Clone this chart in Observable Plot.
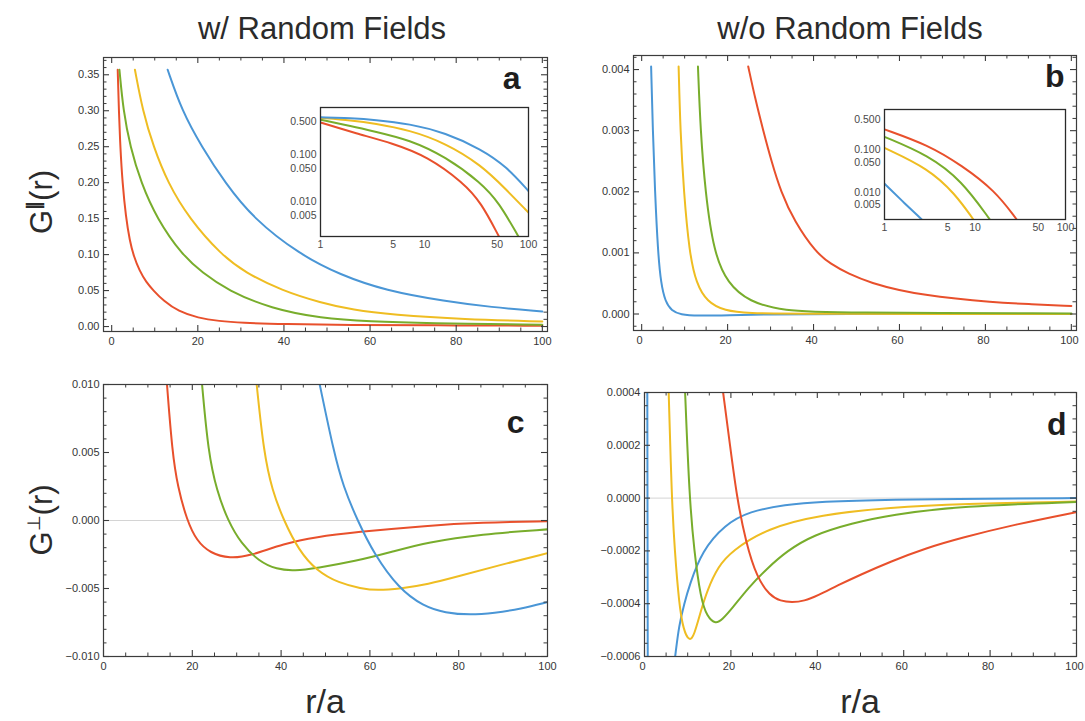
<!DOCTYPE html>
<html><head><meta charset="utf-8">
<script src="https://cdn.jsdelivr.net/npm/d3@7"></script>
<script src="https://cdn.jsdelivr.net/npm/@observablehq/plot@0.6"></script>
<style>
html,body{margin:0;padding:0;background:#fff;}
#root{position:relative;width:1085px;height:721px;overflow:hidden;background:#fff;}
</style></head>
<body><div id="root"></div>
<script>
// ---------- DATA ----------
const colBlue = "#4a96d6", colYellow = "#efbd22", colGreen = "#78ad2c", colRed = "#e8502c";

// Panel a: G∥(r) with random fields
const aBlue   = [[13,0.357],[16.3,0.30],[20.9,0.25],[26.3,0.20],[32.9,0.15],[43.7,0.10],[53,0.072],[63.5,0.05],[77.6,0.035],[88,0.027],[100,0.021]];
const aYellow = [[5.4,0.357],[7.2,0.30],[9.7,0.25],[13,0.20],[18,0.15],[25.4,0.10],[31,0.075],[39.5,0.05],[48.6,0.033],[56,0.023],[65.2,0.0165],[81.8,0.010],[100,0.007]];
const aGreen  = [[1.8,0.357],[2.7,0.30],[4.3,0.25],[6.8,0.20],[10.5,0.15],[16.3,0.10],[21,0.075],[27,0.05],[37,0.025],[48.6,0.0115],[60,0.007],[73,0.0046],[100,0.0025]];
const aRed    = [[1.4,0.357],[1.7,0.295],[2.0,0.25],[2.5,0.20],[3.3,0.152],[4.2,0.119],[5.1,0.098],[6.5,0.077],[8,0.062],[9.7,0.05],[12,0.036],[15.5,0.021],[20,0.012],[25,0.0075],[30,0.0052],[40,0.0032],[55,0.0022],[75,0.0016],[100,0.0012]];
// inset a (log-log)
const iaBlue   = [[1,0.62],[2,0.59],[3.28,0.55],[7.2,0.45],[15.9,0.29],[35,0.13],[61,0.056],[100,0.0167]];
const iaYellow = [[1,0.60],[2,0.53],[3.28,0.46],[7.2,0.33],[15.9,0.175],[35,0.06],[61,0.018],[100,0.0058]];
const iaGreen  = [[1,0.55],[2,0.40],[3.28,0.31],[7.2,0.205],[15.9,0.09],[35,0.025],[52,0.0095],[80,0.0018]];
const iaRed    = [[1,0.48],[2.2,0.28],[4.9,0.175],[10.7,0.091],[23.7,0.025],[35,0.0095],[52,0.0018]];

// Panel b: G∥(r) without random fields
const bBlue   = [[2.2,0.00405],[2.6,0.003],[3.1,0.002],[3.8,0.001],[4.5,0.0005],[5.5,0.0002],[7,0.00005],[9,-0.00001],[13,-0.00003],[20,-0.00002],[30,-0.000005],[40,0],[100,0]];
const bYellow = [[8.6,0.00405],[9,0.003],[9.8,0.002],[11.1,0.001],[12.7,0.0005],[15.2,0.0002],[19.3,0.00005],[25,0.00001],[35,0.000003],[100,0]];
const bGreen  = [[13.1,0.00405],[13.7,0.003],[14.8,0.002],[16.8,0.001],[20,0.0005],[25,0.0002],[33,0.00005],[45,0.00002],[100,0.00001]];
const bRed    = [[24.8,0.00405],[26.5,0.0035],[28.3,0.003],[30.2,0.0025],[32.4,0.002],[35.5,0.00152],[40.6,0.001],[44,0.00082],[48,0.00066],[53.7,0.0005],[60,0.000388],[66,0.000311],[73,0.00025],[80.7,0.0002],[90,0.000161],[100,0.00013]];
// inset b (log-log)
const ibBlue   = [[1,0.0159],[1.55,0.0064],[2.58,0.0023]];
const ibYellow = [[1,0.11],[3.06,0.036],[6,0.0093],[9.6,0.0023]];
const ibGreen  = [[1,0.20],[3.06,0.074],[7.1,0.019],[14.6,0.0023]];
const ibRed    = [[1,0.30],[3.06,0.128],[7.1,0.043],[16.6,0.011],[28.9,0.0023]];

// Panel c: G⊥(r) with random fields
const cBlue   = [[48.7,0.010],[51.9,0.005],[54,0.0025],[57.2,0],[61,-0.0025],[66.5,-0.005],[72,-0.0063],[77,-0.0068],[82.6,-0.00695],[88,-0.0068],[94,-0.0065],[100,-0.006]];
const cYellow = [[34.5,0.010],[36.1,0.005],[38,0.0022],[40.6,0],[44,-0.0022],[48,-0.0037],[53,-0.0046],[58,-0.005],[61.6,-0.00515],[67,-0.005],[73,-0.0047],[80,-0.0041],[89,-0.0033],[100,-0.0024]];
const cGreen  = [[22.2,0.010],[23.6,0.005],[25.5,0.0022],[28,0],[31,-0.0017],[35,-0.003],[39,-0.0036],[43,-0.0037],[48,-0.0035],[56.7,-0.003],[65,-0.0023],[73,-0.0016],[85,-0.001],[100,-0.00065]];
const cRed    = [[14.3,0.010],[15.5,0.005],[16.7,0.0025],[18.8,0],[21,-0.0015],[24,-0.0024],[28.5,-0.0028],[33,-0.0026],[40.6,-0.0017],[48,-0.0012],[56.7,-0.00086],[73,-0.00037],[85,-0.00015],[100,-0.00005]];

// Panel d: G⊥(r) without random fields
const dBlueNear = [[0.65,0.0004],[0.75,-0.0006]];
const dBlue   = [[7.1,-0.0006],[8,-0.00048],[9.2,-0.0004],[10.4,-0.00033],[13.3,-0.0002],[18.6,-0.0001],[24.3,-0.00005],[32.5,-0.000025],[40.7,-0.000013],[57,-0.000005],[80,-0.000002],[100,0]];
const dYellow = [[5.6,0.0004],[6.3,0],[7,-0.0002],[8,-0.0004],[9,-0.0005],[10.4,-0.000544],[11.5,-0.00052],[13,-0.00043],[14.5,-0.00035],[17,-0.00026],[20.2,-0.0002],[28.4,-0.000114],[40.7,-0.000063],[57,-0.000035],[73.4,-0.000022],[100,-0.000013]];
const dGreen  = [[9.4,0.0004],[10.4,0],[11.5,-0.0002],[13,-0.00038],[14.5,-0.00045],[16.5,-0.000478],[18,-0.00046],[20.2,-0.00042],[24,-0.00034],[28.4,-0.000266],[33,-0.0002],[39,-0.00014],[48,-0.000095],[57,-0.000063],[73.4,-0.00003],[100,-0.000015]];
const dRed    = [[18.2,0.0004],[19.8,0.0002],[21.4,0],[23.5,-0.00017],[26,-0.0003],[29,-0.00037],[31.5,-0.00039],[34.1,-0.000395],[37,-0.00039],[40,-0.00037],[44.8,-0.00033],[50,-0.00029],[57,-0.00024],[65,-0.00019],[73.4,-0.00015],[85.7,-0.0001],[100,-0.000053]];

// Tick values
const xTicksMain = [0,20,40,60,80,100];
const aYTicks = [0,0.05,0.10,0.15,0.20,0.25,0.30,0.35];
const bYTicks = [0,0.001,0.002,0.003,0.004];
const cYTicks = [-0.010,-0.005,0,0.005,0.010];
const dYTicks = [-0.0006,-0.0004,-0.0002,0,0.0002,0.0004];
const insetXTicks = [1,5,10,50,100];
const insetYTicks = [0.005,0.01,0.05,0.1,0.5];

// Texts
const titleLeft = "w/ Random Fields", titleRight = "w/o Random Fields";
const xLabel = "r/a";

// ---------- DRAWING ----------
const FONT = "'Liberation Sans', Arial, Helvetica, sans-serif";
const root = document.getElementById("root");
const FRAME = "#3c3c3c";

function minorTicks(lo, hi, step, majors) {
  const out = [];
  const n = Math.round((hi - lo) / step);
  for (let i = 0; i <= n; i++) {
    const v = +(lo + i * step).toPrecision(10);
    if (!majors.some(m => Math.abs(m - v) < step / 100)) out.push(v);
  }
  return out;
}

function panel(cfg) {
  const f = cfg.frame;
  const iw = f.r - f.l, ih = f.b - f.t;
  const {ml, mt, mr, mb} = cfg;
  const marks = [];
  if (cfg.inset) marks.push(Plot.frame({fill: "white", stroke: null}));
  if (cfg.zero) marks.push(Plot.ruleY([0], {stroke: "#d4d4d4", strokeWidth: 1}));
  for (const s of cfg.series) {
    marks.push(Plot.line(s.data, {x: d => d[0], y: d => d[1], stroke: s.color, strokeWidth: cfg.sw || 2, curve: "basis", clip: true}));
  }
  const addTicks = (xs, ys, len, sw) => {
    if (xs) {
      marks.push(Plot.tickX(xs, {x: d => d, insetTop: ih - len, stroke: FRAME, strokeWidth: sw}));
      marks.push(Plot.tickX(xs, {x: d => d, insetBottom: ih - len, stroke: FRAME, strokeWidth: sw}));
    }
    if (ys) {
      marks.push(Plot.tickY(ys, {y: d => d, insetRight: iw - len, stroke: FRAME, strokeWidth: sw}));
      marks.push(Plot.tickY(ys, {y: d => d, insetLeft: iw - len, stroke: FRAME, strokeWidth: sw}));
    }
  };
  if (!cfg.inset) {
    addTicks(cfg.xTicks, cfg.yTicks, 6, 1.1);
    addTicks(cfg.xMinor, cfg.yMinor, 3.5, 1);
  }
  marks.push(Plot.frame({stroke: cfg.inset ? "#2a2a2a" : FRAME, strokeWidth: cfg.inset ? 1.3 : 1.2}));
  if (cfg.inset) {
    marks.push(Plot.text(cfg.xTicks, {x: d => d, text: cfg.xFmt, frameAnchor: "bottom", lineAnchor: "top", dy: cfg.xPad, fill: "currentColor"}));
    marks.push(Plot.text(cfg.yTicks, {y: d => d, text: cfg.yFmt, frameAnchor: "left", textAnchor: "end", dx: -cfg.yPad, fill: "currentColor"}));
  } else {
    marks.push(Plot.axisX({ticks: cfg.xTicks, tickSize: 0, tickPadding: cfg.xPad, tickFormat: cfg.xFmt, label: null, dx: cfg.xDx || 0}));
    marks.push(Plot.axisY({ticks: cfg.yTicks, tickSize: 0, tickPadding: cfg.yPad, tickFormat: cfg.yFmt, label: null}));
  }
  if (cfg.letter) {
    marks.push(Plot.text([cfg.letter], {text: d => d, frameAnchor: "top-right", textAnchor: "end", lineAnchor: "top",
      dx: cfg.letterDx, dy: cfg.letterDy, fontSize: 32, fontWeight: "bold", fill: "#1e1e1e"}));
  }
  const svg = Plot.plot({
    width: iw + ml + mr, height: ih + mt + mb,
    marginLeft: ml, marginTop: mt, marginRight: mr, marginBottom: mb,
    x: {type: cfg.xType || "linear", domain: cfg.xDomain, axis: null},
    y: {type: cfg.yType || "linear", domain: cfg.yDomain, axis: null},
    style: {fontFamily: FONT, fontSize: cfg.fontSize || "11px", color: cfg.textColor || "#363636", background: "transparent", overflow: "visible"},
    marks
  });
  svg.style.position = "absolute";
  svg.style.left = (f.l - ml) + "px";
  svg.style.top = (f.t - mt) + "px";
  root.appendChild(svg);
}

// Panel a
panel({
  frame: {l: 103, t: 57, r: 547, b: 331}, ml: 60, mt: 5, mr: 14, mb: 28,
  xDomain: [-1.9, 101.2], yDomain: [-0.0069, 0.374],
  xTicks: xTicksMain, yTicks: aYTicks,
  xMinor: minorTicks(0, 100, 5, xTicksMain), yMinor: minorTicks(0, 0.37, 0.01, aYTicks),
  xFmt: d3.format("d"), yFmt: d3.format(".2f"), xPad: 6, yPad: 4,
  letter: "a", letterDx: -27, letterDy: 9,
  series: [{data: aRed, color: colRed}, {data: aGreen, color: colGreen}, {data: aYellow, color: colYellow}, {data: aBlue, color: colBlue}]
});
// Panel b
panel({
  frame: {l: 633, t: 55, r: 1076, b: 330}, ml: 60, mt: 5, mr: 9, mb: 28,
  xDomain: [-1.9, 101.2], yDomain: [-0.00027, 0.00423],
  xTicks: xTicksMain, yTicks: bYTicks,
  xMinor: minorTicks(0, 100, 5, xTicksMain), yMinor: minorTicks(-0.0002, 0.0042, 0.0002, bYTicks),
  xFmt: d3.format("d"), yFmt: d3.format(".3f"), xPad: 6, yPad: 4, xDx: -2,
  letter: "b", letterDx: -12, letterDy: 9,
  series: [{data: bBlue, color: colBlue}, {data: bYellow, color: colYellow}, {data: bGreen, color: colGreen}, {data: bRed, color: colRed}]
});
// Panel c
panel({
  frame: {l: 103, t: 384, r: 547, b: 656}, ml: 60, mt: 8, mr: 14, mb: 28,
  xDomain: [0, 100], yDomain: [-0.010, 0.010], zero: true,
  xTicks: xTicksMain, yTicks: cYTicks,
  xMinor: minorTicks(0, 100, 5, xTicksMain), yMinor: minorTicks(-0.01, 0.01, 0.001, cYTicks),
  xFmt: d3.format("d"), yFmt: d3.format(".3f"), xPad: 6, yPad: 4,
  letter: "c", letterDx: -23, letterDy: 26,
  series: [{data: cRed, color: colRed}, {data: cGreen, color: colGreen}, {data: cYellow, color: colYellow}, {data: cBlue, color: colBlue}]
});
// Panel d
panel({
  frame: {l: 644, t: 392, r: 1076, b: 656}, ml: 60, mt: 8, mr: 9, mb: 28,
  xDomain: [0, 100], yDomain: [-0.0006, 0.0004], zero: true,
  xTicks: xTicksMain, yTicks: dYTicks,
  xMinor: minorTicks(0, 100, 5, xTicksMain), yMinor: minorTicks(-0.0006, 0.0004, 0.00005, dYTicks),
  xFmt: d3.format("d"), yFmt: d3.format(".4f"), xPad: 6, yPad: 4, xDx: -2,
  letter: "d", letterDx: -10, letterDy: 20,
  series: [{data: dBlueNear, color: colBlue}, {data: dBlue, color: colBlue}, {data: dYellow, color: colYellow}, {data: dGreen, color: colGreen}, {data: dRed, color: colRed}]
});
// Inset a
panel({
  inset: true, frame: {l: 320, t: 107, r: 528, b: 236}, ml: 40, mt: 2, mr: 14, mb: 20,
  xType: "log", yType: "log", xDomain: [1, 100], yDomain: [0.0018, 1.0],
  xTicks: insetXTicks, yTicks: insetYTicks, xFmt: d => String(d), yFmt: d3.format(".3f"),
  xPad: 4, yPad: 4, fontSize: "10.5px", textColor: "#4a4a4a", sw: 2,
  series: [{data: iaRed, color: colRed}, {data: iaGreen, color: colGreen}, {data: iaYellow, color: colYellow}, {data: iaBlue, color: colBlue}]
});
// Inset b
panel({
  inset: true, frame: {l: 884, t: 109, r: 1065, b: 219}, ml: 40, mt: 2, mr: 14, mb: 20,
  xType: "log", yType: "log", xDomain: [1, 100], yDomain: [0.0023, 0.875],
  xTicks: insetXTicks, yTicks: insetYTicks, xFmt: d => String(d), yFmt: d3.format(".3f"),
  xPad: 4, yPad: 4, fontSize: "10.5px", textColor: "#4a4a4a", sw: 2,
  series: [{data: ibBlue, color: colBlue}, {data: ibYellow, color: colYellow}, {data: ibGreen, color: colGreen}, {data: ibRed, color: colRed}]
});

// Titles and axis labels (overlay)
const ov = d3.select(root).append("svg")
  .attr("width", 1085).attr("height", 721)
  .style("position", "absolute").style("left", "0px").style("top", "0px").style("pointer-events", "none")
  .style("font-family", FONT).style("fill", "#2b2b2b");
ov.append("text").attr("x", 322).attr("y", 39).attr("text-anchor", "middle").attr("font-size", 31).text(titleLeft);
ov.append("text").attr("x", 850).attr("y", 39).attr("text-anchor", "middle").attr("font-size", 31).text(titleRight);
ov.append("text").attr("x", 325).attr("y", 713).attr("text-anchor", "middle").attr("font-size", 34).text(xLabel);
ov.append("text").attr("x", 860).attr("y", 713).attr("text-anchor", "middle").attr("font-size", 34).text(xLabel);
const yl1 = ov.append("text").attr("transform", "translate(52,202) rotate(-90)").attr("text-anchor", "middle").attr("font-size", 31);
yl1.append("tspan").text("G");
yl1.append("tspan").attr("font-size", 18).attr("font-weight", "bold").attr("dy", -12).text("∥");
yl1.append("tspan").attr("dy", 12).text("(r)");
const yl2 = ov.append("text").attr("transform", "translate(52,520) rotate(-90)").attr("text-anchor", "middle").attr("font-size", 31);
yl2.append("tspan").text("G");
yl2.append("tspan").attr("font-size", 18).attr("dy", -12).text("⊥");
yl2.append("tspan").attr("dy", 12).text("(r)");
</script>
</body></html>
